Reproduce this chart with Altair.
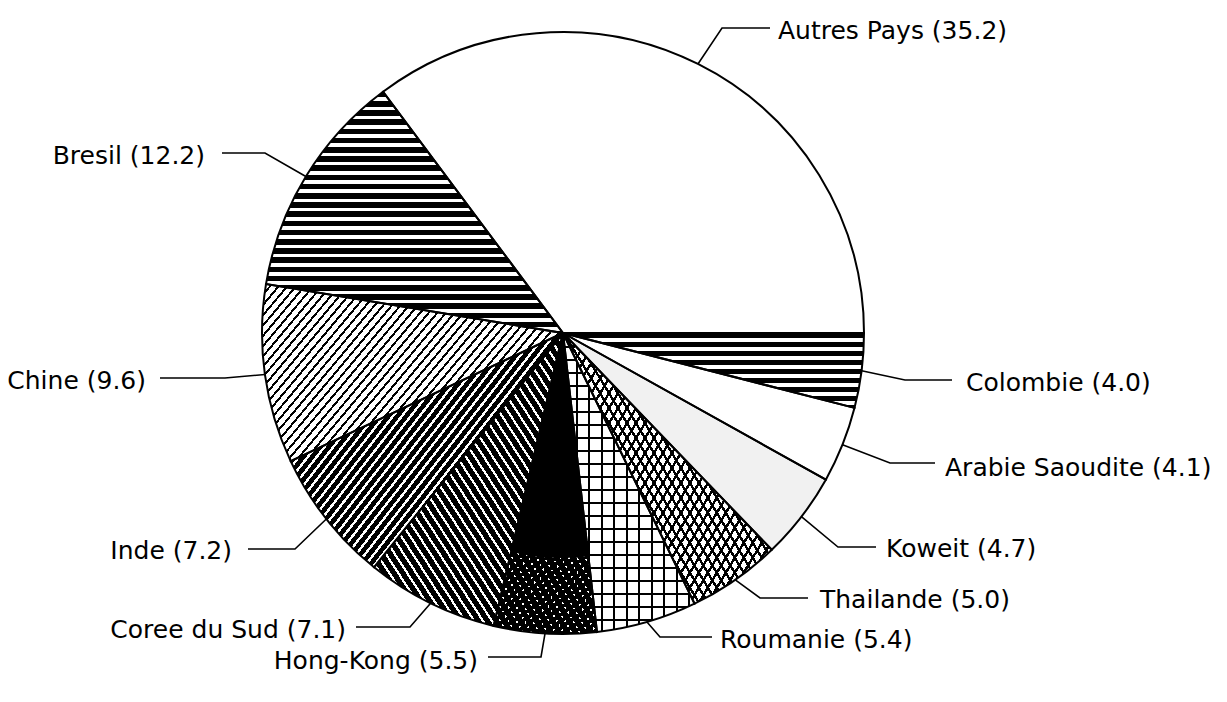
import math
import altair as alt
import pandas as pd

# ---------------- data ----------------
countries = ["Colombie", "Arabie Saoudite", "Koweit", "Thailande", "Roumanie",
             "Hong-Kong", "Coree du Sud", "Inde", "Chine", "Bresil", "Autres Pays"]
shares = [4.0, 4.1, 4.7, 5.0, 5.4, 5.5, 7.1, 7.2, 9.6, 12.2, 35.2]
labels = [f"{c} ({v:.1f})" for c, v in zip(countries, shares)]

# ---------------- layout (page pixels) ----------------
CX, CY, R = 563, 333, 301
W, H = 1205, 680
X0, Y0 = 8, 8
# elbow x, elbow y, end of horizontal x, text x, text y, side
label_layout = {
    "Colombie":        (905, 380, 952, 966, 383, "L"),
    "Arabie Saoudite": (890, 463, 935, 945, 468, "L"),
    "Koweit":          (838, 547, 876, 886, 549, "L"),
    "Thailande":       (760, 598, 808, 820, 600, "L"),
    "Roumanie":        (660, 637, 712, 720, 640, "L"),
    "Hong-Kong":       (541, 657, 488, 478, 661, "R"),
    "Coree du Sud":    (410, 627, 356, 346, 630, "R"),
    "Inde":            (295, 549, 248, 232, 551, "R"),
    "Chine":           (225, 378, 160, 146, 381, "R"),
    "Bresil":          (265, 153, 222, 205, 156, "R"),
    "Autres Pays":     (722, 28, 770, 778, 31, "L"),
}

starts, ends, acc = [], [], 0.0
for v in shares:
    starts.append(acc)
    acc += v
    ends.append(acc)

df = pd.DataFrame({"country": countries, "start": starts, "end": ends, "label": labels})

TH0 = math.pi / 2


def ang(p):
    return TH0 + 2 * math.pi * p / 100.0


def bbox(s, e, r_in, r_out):
    ts, te = ang(s), ang(e)
    pts = []
    for t in (ts, te):
        pts.append((r_out * math.sin(t), -r_out * math.cos(t)))
        pts.append((r_in * math.sin(t), -r_in * math.cos(t)))
    k = math.ceil(ts / (math.pi / 2))
    while k * math.pi / 2 < te:
        t = k * math.pi / 2
        pts.append((r_out * math.sin(t), -r_out * math.cos(t)))
        k += 1
    xs = [p[0] for p in pts]
    ys = [p[1] for p in pts]
    return max(xs) - min(xs), max(ys) - min(ys)


def stripes(w, h, angle, period, ink, ink_color="black", bg_color="white"):
    a = math.radians(angle)
    nx, ny = math.sin(a), math.cos(a)
    cxp, cyp = w * nx, h * ny
    corners = [0.0, cxp, cyp, cxp + cyp]
    m, M = min(corners), max(corners)
    L = M - m
    ax, ay = cxp / L, cyp / L
    c0 = -m / L
    n2 = ax * ax + ay * ay
    vx, vy = ax / n2, ay / n2
    x1, y1 = -c0 * vx, -c0 * vy
    x2, y2 = x1 + vx, y1 + vy
    p, d = period / L, ink / L
    stops = []
    k = 0
    while k * p < 1:
        o = k * p
        for off, col in ((o, ink_color), (o + d, ink_color), (o + d, bg_color), (o + p, bg_color)):
            stops.append({"offset": round(min(max(off, 0.0), 1.0), 5), "color": col})
        k += 1
    return {"gradient": "linear", "x1": round(x1, 5), "y1": round(y1, 5),
            "x2": round(x2, 5), "y2": round(y2, 5), "stops": stops}


CLEAR = "rgba(0,0,0,0)"
# pattern definitions: list of (inner radius, fill spec) layers per slice
styles = {
    "Colombie": [(0, ("s", 0, 9.0, 4.8, "black", "white"))],
    "Arabie Saoudite": [(0, "white")],
    "Koweit": [(0, "#f1f1f1")],
    "Thailande": [(0, ("s", 59, 7.7, 2.4, "black", "white")),
                  (0, ("s", -59, 7.7, 2.4, "black", CLEAR))],
    "Roumanie": [(0, ("s", 0, 13.0, 2.2, "black", "white")),
                 (0, ("s", 90, 12.5, 2.2, "black", CLEAR))],
    "Hong-Kong": [(0, "black"),
                  (225, ("s", -60, 7.0, 5.4, "black", "white")),
                  (225, ("s", 35, 5.5, 3.6, "black", CLEAR))],
    "Coree du Sud": [(0, ("s", -57, 7.5, 5.3, "black", "white"))],
    "Inde": [(0, ("s", 52, 7.0, 4.6, "black", "white"))],
    "Chine": [(0, ("s", 50, 6.6, 2.0, "black", "white"))],
    "Bresil": [(0, ("s", 0, 9.2, 5.6, "black", "white"))],
    "Autres Pays": [(0, "white")],
}

theta_scale = alt.Scale(domain=[0, 100], range=[TH0, TH0 + 2 * math.pi])
xs = alt.Scale(domain=[X0, X0 + W])
ys = alt.Scale(domain=[Y0, Y0 + H], reverse=True)

layers = []
for c, s, e in zip(countries, starts, ends):
    for r_in, spec in styles[c]:
        if isinstance(spec, tuple):
            w, h = bbox(s, e, r_in, R)
            fill = stripes(w, h, spec[1], spec[2], spec[3], spec[4], spec[5])
        else:
            fill = spec
        kw = dict(radius=R, fill=fill, strokeWidth=0)
        if r_in:
            kw["radius2"] = r_in
        layers.append(
            alt.Chart(df).transform_filter(alt.datum.country == c).mark_arc(**kw).encode(
                theta=alt.Theta("start:Q", scale=theta_scale),
                theta2="end:Q",
                x=alt.value(CX - X0), y=alt.value(CY - Y0),
            )
        )

outline = alt.Chart(df).mark_arc(radius=R, fill="white", fillOpacity=0, stroke="black",
                                 strokeWidth=2).encode(
    theta=alt.Theta("start:Q", scale=theta_scale),
    theta2="end:Q",
    x=alt.value(CX - X0), y=alt.value(CY - Y0),
)
layers.append(outline)

# leader lines
rows = []
for c, s, e, lab in zip(countries, starts, ends, labels):
    t = ang((s + e) / 2)
    sx, sy = CX + R * math.sin(t), CY - R * math.cos(t)
    ex, ey, hx, tx, ty, side = label_layout[c]
    rows += [{"label": lab, "o": 0, "px": sx, "py": sy},
             {"label": lab, "o": 1, "px": ex, "py": ey},
             {"label": lab, "o": 2, "px": hx, "py": ey}]
lines_df = pd.DataFrame(rows)
leaders = alt.Chart(lines_df).mark_line(color="black", strokeWidth=1.6).encode(
    x=alt.X("px:Q", scale=xs, axis=None),
    y=alt.Y("py:Q", scale=ys, axis=None),
    detail="label:N",
    order="o:Q",
)
layers.append(leaders)

text_df = pd.DataFrame({
    "label": labels,
    "tx": [label_layout[c][3] for c in countries],
    "ty": [label_layout[c][4] for c in countries],
    "side": [label_layout[c][5] for c in countries],
})
for side, al in (("L", "left"), ("R", "right")):
    layers.append(
        alt.Chart(text_df).transform_filter(alt.datum.side == side).mark_text(
            align=al, baseline="middle", font="DejaVu Sans", fontSize=25, color="black"
        ).encode(
            x=alt.X("tx:Q", scale=xs, axis=None),
            y=alt.Y("ty:Q", scale=ys, axis=None),
            text="label:N",
        )
    )

chart = alt.layer(*layers).properties(
    width=W, height=H, autosize=alt.AutoSizeParams(type="none"), padding=0
).configure_view(stroke=None)

chart.save("out.html", embed_options={"renderer": "svg", "actions": False})
